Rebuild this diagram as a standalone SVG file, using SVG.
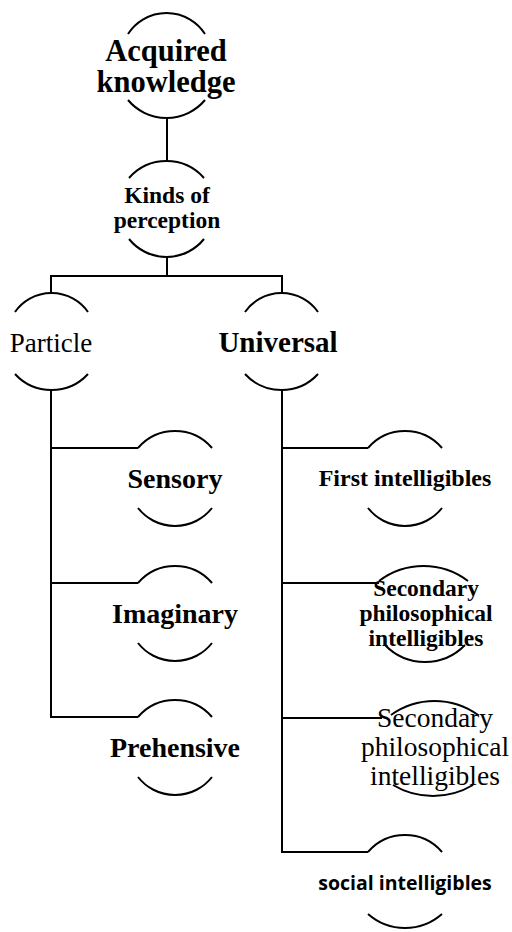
<svg xmlns="http://www.w3.org/2000/svg" width="512" height="932" viewBox="0 0 512 932">
<style>
.ln{fill:none;stroke:#000;stroke-width:2}
.arc{fill:none;stroke:#000;stroke-width:2}
.t{font-family:"Liberation Serif","Times New Roman",serif;fill:#000;text-anchor:middle}
.b{font-weight:bold}
.s{font-family:"Open Sans","Liberation Sans",sans-serif;font-weight:bold;fill:#000;text-anchor:middle}
</style>
<rect width="512" height="932" fill="#fff"/>
<g id="connectors">
<path class="ln" d="M167 118V161"/>
<path class="ln" d="M167 257V276"/>
<path class="ln" d="M51 293V276H282V293"/>
<path class="ln" d="M51 390V717H138"/>
<path class="ln" d="M51 448H138"/>
<path class="ln" d="M51 583H138"/>
<path class="ln" d="M282 390V852H368"/>
<path class="ln" d="M282 448H368"/>
<path class="ln" d="M282 583H379"/>
<path class="ln" d="M282 718H382"/>
</g>
<g id="acquired">
<path class="arc" d="M128 34A45.8 45.8 0 0 1 205 34"/>
<path class="arc" d="M128 100A50.2 50.2 0 0 0 205 100"/>
<text class="t b" x="166" y="61" font-size="30.5">Acquired</text>
<text class="t b" x="166" y="92" font-size="30.5">knowledge</text>
</g>
<g id="kinds">
<path class="arc" d="M129 178A49.9 49.9 0 0 1 204 178"/>
<path class="arc" d="M129 239A48.1 48.1 0 0 0 204 239"/>
<text class="t b" x="167" y="203" font-size="23.5">Kinds of</text>
<text class="t b" x="167" y="228" font-size="23.5">perception</text>
</g>
<g id="particle">
<path class="arc" d="M15 312A44.6 44.6 0 0 1 88 312"/>
<path class="arc" d="M15 374A49.6 49.6 0 0 0 88 374"/>
<text class="t" x="51" y="352" font-size="27">Particle</text>
</g>
<g id="universal">
<path class="arc" d="M245 312A44.6 44.6 0 0 1 318 312"/>
<path class="arc" d="M245 374A49.6 49.6 0 0 0 318 374"/>
<text class="t b" x="278" y="352" font-size="29">Universal</text>
</g>
<g id="sensory">
<path class="arc" d="M138 448A48.8 48.8 0 0 1 212 448"/>
<path class="arc" d="M138 508A47 47 0 0 0 212 508"/>
<text class="t b" x="175" y="488" font-size="28">Sensory</text>
</g>
<g id="imaginary">
<path class="arc" d="M138 583A48.8 48.8 0 0 1 212 583"/>
<path class="arc" d="M138 643A47 47 0 0 0 212 643"/>
<text class="t b" x="175" y="623" font-size="28">Imaginary</text>
</g>
<g id="prehensive">
<path class="arc" d="M138 717A48.8 48.8 0 0 1 212 717"/>
<path class="arc" d="M138 777A47 47 0 0 0 212 777"/>
<text class="t b" x="175" y="757" font-size="28">Prehensive</text>
</g>
<g id="first">
<path class="arc" d="M368 448A48.8 48.8 0 0 1 442 448"/>
<path class="arc" d="M368 508A47 47 0 0 0 442 508"/>
<text class="t b" x="405" y="486" font-size="24">First intelligibles</text>
</g>
<g id="secondary-bold">
<path class="arc" d="M379 581A73.5 73.5 0 0 1 468 581"/>
<path class="arc" d="M385 645A55.6 55.6 0 0 0 465 645"/>
<text class="t b" x="426" y="596" font-size="23.5">Secondary</text>
<text class="t b" x="426" y="621" font-size="23.5">philosophical</text>
<text class="t b" x="426" y="646" font-size="23.5">intelligibles</text>
</g>
<g id="secondary-regular">
<path class="arc" d="M391 715A74.6 74.6 0 0 1 478 715"/>
<path class="arc" d="M393 785A78.2 78.2 0 0 0 473 785"/>
<text class="t" x="435" y="727" font-size="27.5">Secondary</text>
<text class="t" x="435" y="756" font-size="27.5">philosophical</text>
<text class="t" x="435" y="785" font-size="27.5">intelligibles</text>
</g>
<g id="social">
<path class="arc" d="M368 852A48.8 48.8 0 0 1 442 852"/>
<path class="arc" d="M368 914A55.9 55.9 0 0 0 442 914"/>
<text class="s" x="405" y="890" font-size="19.5">social intelligibles</text>
</g>
</svg>
